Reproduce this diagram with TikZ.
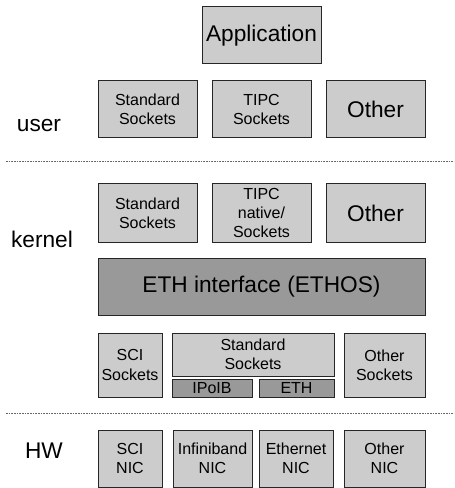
\documentclass[tikz,border=0pt]{standalone}
\usepackage{fontspec}
\setmainfont{Liberation Sans}
\newcommand\smallfnt{\fontsize{12}{14.4}\selectfont}
\newcommand\largefnt{\fontsize{17}{20}\selectfont}
\tikzset{
	blk/.style={draw=black!85, fill=gray!40, line width=0.75pt, inner sep=0pt, align=center, font=\smallfnt},
	darkblk/.style={blk, fill=gray!80},
	sz/.style 2 args={minimum width=#1*0.75pt, minimum height=#2*0.75pt},
	lbl/.style={font=\largefnt},
	sep/.style={black!60, line width=0.6pt, dash pattern=on 1.2pt off 0.8pt}
}
\begin{document}
\begin{tikzpicture}[x=0.75pt,y=-0.75pt]
		\useasboundingbox (0,0) rectangle (454,488);
		% user
		\node[blk,sz={119}{57},font=\largefnt] (app) at (261.5,35.5) {Application};
		\node[blk,sz={99}{57}] (ustd) at (147.5,109.5) {Standard\\Sockets};
		\node[blk,sz={99}{57}] (utipc) at (261.5,109.5) {TIPC\\Sockets};
		\node[blk,sz={99}{57},font=\largefnt] (uoth) at (375.5,109.5) {Other};
		\path (39,126) node[lbl] (user) {user};
		\draw[sep] (6,161) -- (454,161);
		% kernel
		\node[blk,sz={99}{58}] (kstd) at (147.5,213) {Standard\\Sockets};
		\node[blk,sz={99}{58}] (ktipc) at (261.5,213) {TIPC\\native/\\Sockets};
		\node[blk,sz={99}{58},font=\largefnt] (koth) at (375.5,213) {Other};
		\path (42,239) node[lbl] (kernel) {kernel};
		\node[darkblk,sz={327}{57},font=\largefnt] (ethos) at (261.5,286.5) {ETH interface (ETHOS)};
		\node[blk,sz={64}{64}] (scisock) at (130,365) {SCI\\Sockets};
		\node[blk,sz={162}{43}] (stdsock) at (253,354.5) {Standard\\Sockets};
		\node[darkblk,sz={80}{18}] (ipoib) at (212,388) {IPoIB};
		\node[darkblk,sz={75}{18}] (eth) at (296.5,388) {ETH};
		\node[blk,sz={81}{64}] (othsock) at (384.5,365) {Other\\Sockets};
		\draw[sep] (6,413) -- (454,413);
		% HW
		\node[blk,sz={64}{57}] (scinic) at (130,458.5) {SCI\\NIC};
		\node[blk,sz={79}{57}] (ibnic) at (212.5,458.5) {Infiniband\\NIC};
		\node[blk,sz={74}{57}] (ethnic) at (296,458.5) {Ethernet\\NIC};
		\node[blk,sz={81}{57}] (othnic) at (384.5,458.5) {Other\\NIC};
		\path (44,451) node[lbl] (hw) {HW};
\end{tikzpicture}
\end{document}
